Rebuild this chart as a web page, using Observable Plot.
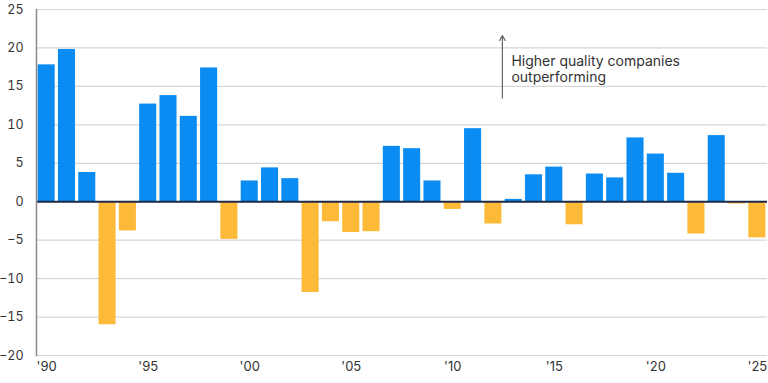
<!DOCTYPE html>
<html>
<head>
<meta charset="utf-8">
<script src="https://cdn.jsdelivr.net/npm/d3@7"></script>
<script src="https://cdn.jsdelivr.net/npm/@observablehq/plot@0.6"></script>
<style>
  html, body { margin: 0; padding: 0; background: #fff; }
  #chart svg { display: block; }
</style>
</head>
<body>
<div id="chart"></div>
<script>
const years = ["1990","1991","1992","1993","1994","1995","1996","1997","1998","1999",
  "2000","2001","2002","2003","2004","2005","2006","2007","2008","2009",
  "2010","2011","2012","2013","2014","2015","2016","2017","2018","2019",
  "2020","2021","2022","2023","2024","2025"];
const values = [17.8, 19.8, 3.8, -16.0, -3.8, 12.7, 13.8, 11.1, 17.4, -4.9,
  2.7, 4.4, 3.0, -11.8, -2.6, -4.0, -3.9, 7.2, 6.9, 2.7,
  -1.0, 9.5, -2.9, 0.3, 3.5, 4.5, -3.0, 3.6, 3.1, 8.3,
  6.2, 3.7, -4.2, 8.6, -0.3, -4.7];
const yTicks = [-20, -15, -10, -5, 0, 5, 10, 15, 20, 25];
const xTicks = ["1990","1995","2000","2005","2010","2015","2020","2025"];
const annotationText = ["Higher quality companies\noutperforming"];
const annotationYear = "2012";
const arrowFrom = 13.5, arrowTo = 21.6, annotationY = 17.3;

const data = years.map((y, i) => ({year: y, value: values[i]}));
const BLUE = "#0a8cf2", ORANGE = "#fdba38";

const chart = Plot.plot({
  width: 768,
  height: 383,
  marginLeft: 36,
  marginRight: 1,
  marginTop: 9,
  marginBottom: 28,
  style: {fontFamily: "Inter, 'Open Sans', sans-serif", fontSize: "12.5px", color: "#333", background: "#fff"},
  x: {domain: years, paddingInner: 0.16, paddingOuter: 0.08, round: false, label: null},
  y: {domain: [-20, 25], label: null},
  marks: [
    Plot.ruleY(yTicks, {stroke: "#d6d6d6", strokeWidth: 1.2}),
    Plot.barY(data, {x: "year", y: "value", fill: d => d.value >= 0 ? BLUE : ORANGE}),
    Plot.ruleY([0], {stroke: "#1b2a47", strokeWidth: 2}),
    Plot.frame({anchor: "left", stroke: "#8a8a8a", strokeWidth: 1.5}),
    Plot.axisY({ticks: yTicks, tickSize: 0, tickPadding: 13, fontSize: 12.5, label: null}),
    Plot.axisX({ticks: xTicks, tickSize: 0, tickPadding: 6, fontSize: 13, tickFormat: d => "'" + d.slice(2), label: null}),
    Plot.arrow([0], {x1: () => annotationYear, x2: () => annotationYear, y1: () => arrowFrom, y2: () => arrowTo,
      dx: 9, stroke: "#666", strokeWidth: 1.2, headLength: 7, bend: 0}),
    Plot.text(annotationText, {x: () => annotationYear, y: () => annotationY, text: d => d, dx: 18,
      textAnchor: "start", lineAnchor: "middle", lineHeight: 1.15, fontSize: 14, fill: "#333"})
  ]
});
document.getElementById("chart").appendChild(chart);
</script>
</body>
</html>
